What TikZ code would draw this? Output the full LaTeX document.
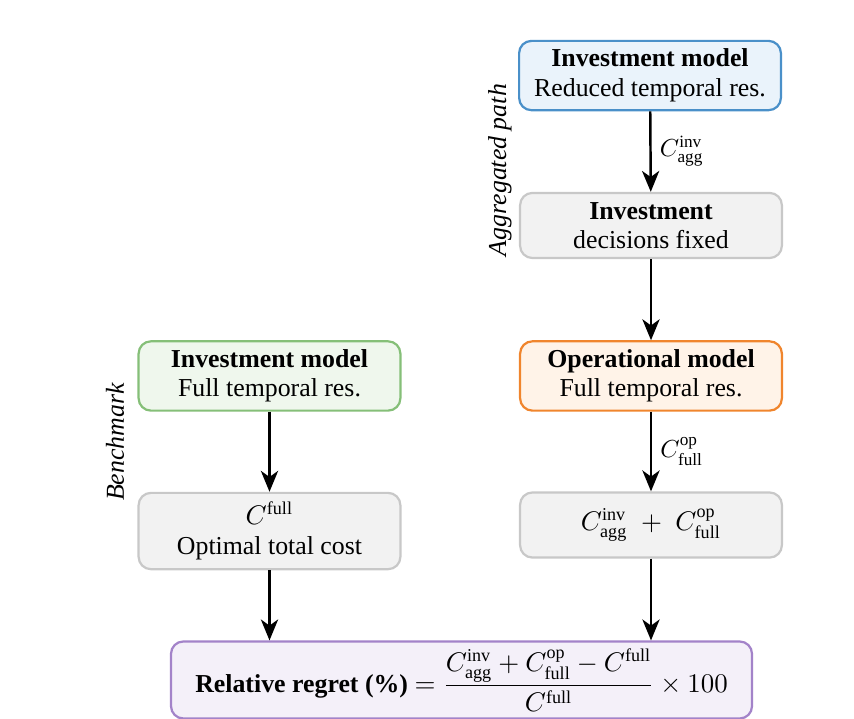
\documentclass[tikz,border=0pt]{standalone}
\usepackage{amsmath}
\usepackage{fontspec}
\setmainfont{Liberation Serif}
\usepackage{tikz}
\usetikzlibrary{arrows.meta}

\definecolor{invblue}{HTML}{4A90C9}
\definecolor{invbluefill}{HTML}{EAF3FB}
\definecolor{benchgreen}{HTML}{85BF78}
\definecolor{benchgreenfill}{HTML}{EFF7ED}
\definecolor{oporange}{HTML}{F0852D}
\definecolor{oporangefill}{HTML}{FFF3E8}
\definecolor{resgray}{HTML}{C8C8C8}
\definecolor{resgrayfill}{HTML}{F2F2F2}
\definecolor{regpurple}{HTML}{A383C9}
\definecolor{regpurplefill}{HTML}{F4F0F9}

\tikzset{
  modelbox/.style={draw, line width=0.9pt, rounded corners=5pt, align=center,
    minimum width=3.74cm, minimum height=0.99cm, inner sep=2pt,
    font=\fontsize{10.5}{12}\selectfont},
  flowarrow/.style={-{Stealth[length=8.5pt,width=7pt,inset=2.5pt]}, line width=1pt},
  sidelabel/.style={rotate=90, font=\fontsize{10.5}{12}\selectfont\itshape}
}

\begin{document}
\begin{tikzpicture}
	\useasboundingbox (0,0) rectangle (12.2,-10.271);
	% Aggregated path
	\node[modelbox, draw=invblue, fill=invbluefill] (invagg) at (9.286,-1.079) {\textbf{Investment model}\\Reduced temporal res.};
	\node[modelbox, draw=resgray, fill=resgrayfill, minimum height=0.93cm] (fixed) at (9.3,-3.221) {\textbf{Investment}\\decisions fixed};
	\node[modelbox, draw=oporange, fill=oporangefill] (opfull) at (9.3,-5.371) {\textbf{Operational model}\\Full temporal res.};
	\node[modelbox, draw=resgray, fill=resgrayfill, minimum height=0.93cm] (aggsum) at (9.3,-7.5) {$C^{\mathrm{inv}}_{\mathrm{agg}} \;+\; C^{\mathrm{op}}_{\mathrm{full}}$};
	% Benchmark
	\node[modelbox, draw=benchgreen, fill=benchgreenfill] (invfull) at (3.85,-5.371) {\textbf{Investment model}\\Full temporal res.};
	\node[modelbox, draw=resgray, fill=resgrayfill, minimum height=1.09cm] (costfull) at (3.85,-7.586) {$C^{\mathrm{full}}$\\Optimal total cost};
	% Regret
	\node[modelbox, draw=regpurple, fill=regpurplefill, minimum width=8.3cm, minimum height=1.1cm] (regret) at (6.593,-9.714)
		{\textbf{Relative regret (\%)} $= \dfrac{C^{\mathrm{inv}}_{\mathrm{agg}} + C^{\mathrm{op}}_{\mathrm{full}} - C^{\mathrm{full}}}{C^{\mathrm{full}}} \times 100$};
	% Side labels
	\node[sidelabel] (aggpath) at (7.143,-2.429) {Aggregated path};
	\node[sidelabel] (bench) at (1.643,-6.314) {Benchmark};
	% Arrows
	\draw[flowarrow] (invagg) -- node[right] {$C^{\mathrm{inv}}_{\mathrm{agg}}$} (fixed);
	\draw[flowarrow] (fixed) -- (opfull);
	\draw[flowarrow] (opfull) -- node[right] {$C^{\mathrm{op}}_{\mathrm{full}}$} (aggsum);
	\draw[flowarrow] (invfull) -- (costfull);
	\draw[flowarrow] (costfull.south) -- (costfull.south |- regret.north);
	\draw[flowarrow] (aggsum.south) -- (aggsum.south |- regret.north);
\end{tikzpicture}
\end{document}
